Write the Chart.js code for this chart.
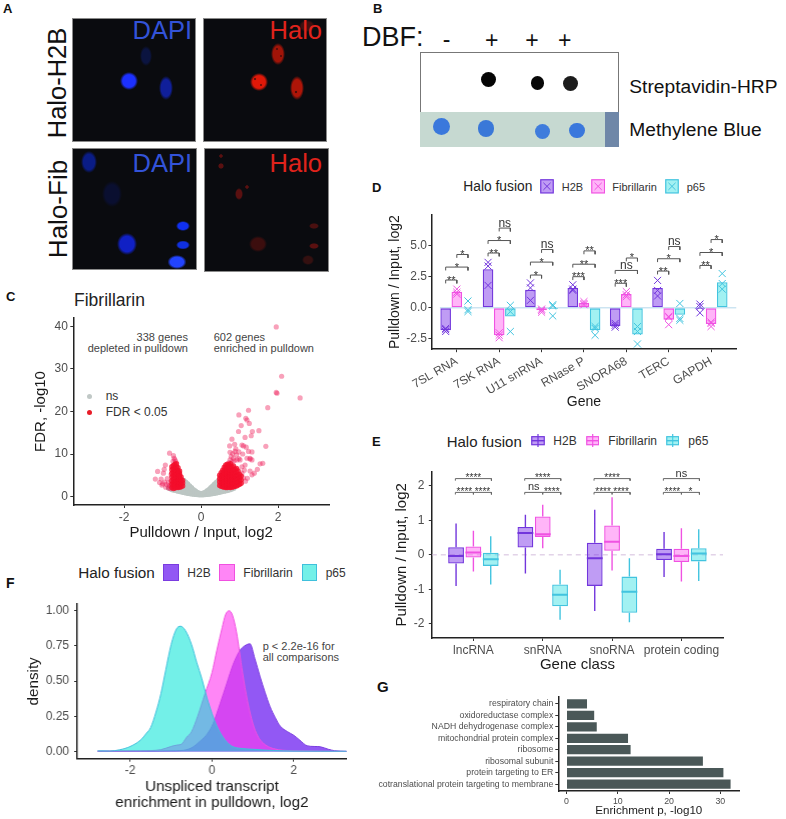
<!DOCTYPE html>
<html><head><meta charset="utf-8">
<script src="https://cdn.jsdelivr.net/npm/chart.js@4"></script>
<style>
html,body{margin:0;padding:0;background:#fff;width:786px;height:819px;overflow:hidden;font-family:"Liberation Sans",Arial,sans-serif}
#root{position:relative;width:786px;height:819px}
#root>*{position:absolute}
.t{white-space:nowrap;line-height:1}
</style></head><body><div id="root"></div>
<script>
// ---------- DATA ----------
const fusions = ['H2B','Fibrillarin','p65'];
// Panel C: columns of [log2 ratio, [-log10 FDR ...]]
const nsGenes = [[-.85,[2.0]],[-.8,[1.8,2.3]],[-.75,[1.6,2.1,2.6]],[-.7,[1.5,2.0,2.6,3.2]],[-.65,[1.4,1.9,2.5,3.1]],[-.6,[1.25,1.8,2.4,3.0,3.6]],[-.55,[1.15,1.7,2.3,2.9,3.5,4.1]],[-.5,[1.05,1.6,2.2,2.8,3.4,4.0]],[-.45,[.95,1.5,2.0,2.6,3.2,3.8]],[-.4,[.85,1.35,1.9,2.4,3.0,3.4]],[-.35,[.75,1.25,1.7,2.2,2.7,3.0]],[-.3,[.7,1.1,1.55,2.0,2.5]],[-.25,[.6,1.0,1.4,1.8,2.1]],[-.2,[.55,.9,1.25,1.6]],[-.15,[.5,.8,1.1,1.35]],[-.1,[.45,.7,.95]],[-.05,[.4,.6,.8]],[0,[.4,.6]],[.05,[.4,.6,.8]],[.1,[.45,.7,.95]],[.15,[.5,.8,1.1,1.35]],[.2,[.55,.9,1.25,1.6]],[.25,[.6,1.0,1.4,1.8,2.1]],[.3,[.7,1.1,1.55,2.0,2.5]],[.35,[.75,1.25,1.7,2.2,2.7,3.0]],[.4,[.85,1.35,1.9,2.4,3.0,3.4]],[.45,[.95,1.5,2.0,2.6,3.2,3.8]],[.5,[1.05,1.6,2.2,2.8,3.4,4.0,4.6]],[.55,[1.15,1.7,2.3,2.9,3.5,4.1,4.7]],[.6,[1.25,1.8,2.4]],[.65,[1.35,1.9]],[.7,[1.45,2.0]],[.75,[1.6,2.1]],[.8,[1.75,2.2]],[.85,[1.95]]];
const depletedCore = [[-.76,[2.1,2.9,3.7,4.6,5.5,6.3,7.0]],[-.72,[1.9,2.6,3.3,4.1,4.9,5.7,6.5,7.3]],[-.68,[2.0,2.8,3.6,4.4,5.2,6.0,6.8,7.6]],[-.64,[2.2,3.0,3.8,4.6,5.4,6.2,7.0,7.7]],[-.6,[2.1,2.5,2.9,3.3,3.7,4.1,4.5,4.9,5.3,5.7,6.1,6.8]],[-.56,[2.2,2.6,3.0,3.4,3.8,4.2,4.6,5.0,5.4,6.0]],[-.52,[2.3,3.1,3.9,4.6]],[-.48,[2.5,3.2,3.8]]];
const depletedSparse = [[-.82,10.2],[-.72,9.6],[-.7,9.0],[-.68,8.6],[-.66,8.2],[-.73,8.3],[-.93,7.4],[-.96,6.4],[-1.13,5.9],[-.98,5.5],[-1.19,4.1],[-1.04,4.1],[-1.08,3.3],[-1.0,3.0],[-.95,3.4],[-.9,2.8],[-.92,2.2],[-1.02,2.7],[-.88,4.2],[-.85,3.2],[-.84,2.0],[-.82,2.6],[-.8,1.9],[-.78,3.6],[-.78,5.2]];
const enrichedCore = [[.48,[2.6,3.4,4.2,5.0]],[.52,[2.4,3.2,4.0,4.8,5.6]],[.56,[2.3,2.7,3.1,3.5,3.9,4.3,4.7,5.1,5.5,6.2]],[.6,[2.2,2.6,3.0,3.4,3.8,4.2,4.6,5.0,5.4,5.8,6.2,6.9]],[.64,[2.1,2.5,2.9,3.3,3.7,4.1,4.5,4.9,5.3,5.7,6.1,6.9,7.4]],[.68,[2.1,2.5,2.9,3.3,3.7,4.1,4.5,4.9,5.3,5.7,6.1,6.5,6.9,7.6]],[.72,[2.2,2.6,3.0,3.4,3.8,4.2,4.6,5.0,5.4,5.8,6.2,7.0,7.5]],[.76,[2.1,2.5,2.9,3.3,3.7,4.1,4.5,4.9,5.3,5.7,6.1,6.9,7.7]],[.8,[2.2,2.6,3.0,3.4,3.8,4.2,4.6,5.0,5.4,6.2,7.0]],[.84,[2.3,3.1,3.9,4.7,5.5,6.3,7.2]],[.88,[2.4,3.2,4.0,4.8,5.6,6.4]],[.92,[2.5,3.3,4.1,4.9,5.7,6.6]],[.96,[2.7,3.5,4.3,5.1,6.0]],[1.0,[2.9,3.7,4.5,5.2]],[1.04,[3.1,3.9,4.8]]];
const enrichedSparse = [[1.95,39.9],[2.09,28.3],[1.97,24.3],[1.95,24.5],[2.57,23.2],[1.73,20.9],[1.23,20.3],[.98,19.2],[1.16,18.4],[1.19,18],[1.04,16.7],[1.25,17.2],[1.33,15.3],[1.5,15.5],[.97,15.3],[1.14,13.9],[1.3,14.3],[.8,13.5],[1.68,11.8],[.74,11.9],[.87,12.3],[1.06,12.1],[1.17,11.6],[1.1,11.9],[.72,7.9],[.75,8.6],[.8,8.2],[.78,9.4],[.84,9.0],[.82,10.1],[.88,10.6],[.92,9.8],[.86,8.4],[.93,8.6],[.98,8.9],[.98,10.5],[.9,11.2],[.75,10.4],[1.32,8.6],[1.27,8.8],[1.23,10.6],[1.32,10.5],[1.08,10],[1.53,7.7],[1.6,7.8],[1.46,6.4],[1.38,5.5],[1.27,6],[1.32,5.1],[1.2,4.3],[1.06,5.5],[1.14,7.4],[1.06,7],[1.01,8.6],[1.19,9],[1.27,9],[1.12,6.2],[1.15,3.6],[1.1,4.4]];
const volcanoYTicks = [0,10,20,30,40];
const volcanoXTicks = [-2,0,2];

// Panel D
const genes = ['7SL RNA','7SK RNA','U11 snRNA','RNase P','SNORA68','TERC','GAPDH'];
const meanH2B = [-1.8,3.1,1.45,1.6,-1.45,1.6,-0.1];
const meanFib = [1.3,-2.2,-0.2,0.4,1.1,-0.95,-1.3];
const meanP65 = [-0.05,-0.7,-0.1,-1.8,-2.15,-0.55,2.05];
const repsH2B = [[-1.65,-1.75,-1.9],[3.65,3.35,1.8],[2.0,1.6,.6],[1.85,1.5,1.4],[-1.25,-1.4,-1.55],[2.2,1.4,.95],[.3,.1,-.4]];
const repsFib = [[1.5,1.25,1.1],[-2.0,-2.2,-2.4],[-.1,-.2,-.35],[.5,.35,.25],[1.3,1.05,.9],[-.7,-.75,-1.35],[-1.15,-1.25,-1.5]];
const repsP65 = [[.55,-.15,-.3],[.2,-.3,-1.9],[.25,.15,-.65],[-1.5,-1.65,-2.2],[-1.5,-1.9,-2.9],[.35,-.85,-1.0],[2.75,1.95,1.5]];
const geneSigY = [[2.23,3.27,4.28],[4.4,5.4,6.4],[2.63,3.67,4.68],[2.5,3.5,4.57],[1.97,3,4],[2.95,3.94,4.92],[3.4,4.44,5.48]];
const geneSigText = [['**','*','*'],['**','*','ns'],['*','*','ns'],['***','**','**'],['***','ns','*'],['**','*','ns'],['**','*','*']];
const geneYTicks = [-2.5,0,2.5,5];

// Panel E: [min, q1, median, q3, max]
const classes = ['lncRNA','snRNA','snoRNA','protein coding'];
const boxH2B = [[-.9,-.25,-.03,.22,.91],[-.54,.21,.63,.81,1.16],[-1.63,-.9,-.1,.35,1.31],[-.64,-.15,.02,.18,.66]];
const boxFib = [[-.48,-.08,.07,.24,.7],[.19,.52,.6,1.11,1.45],[-.45,.12,.38,.85,1.67],[-.77,-.21,-.03,.18,.77]];
const boxP65 = [[-.86,-.32,-.13,.06,.54],[-1.88,-1.49,-1.16,-.86,-.43],[-1.95,-1.68,-1.07,-.63,-.1],[-.76,-.19,.04,.19,.74]];
const classSigTop = ['****','****','****','ns'];
const classSigLeft = ['****','ns','****','****'];
const classSigRight = ['****','****','****','*'];
const classSigY = [2.21,1.81];
const classYTicks = [-2,-1,0,1,2];

// Panel F
const densH2B = [[-2.8,0],[-1.5,.002],[-1,.004],[-.75,.006],[-.5,.025],[-.3,.07],[-.1,.13],[.03,.2],[.2,.34],[.36,.48],[.52,.62],[.69,.72],[.8,.75],[.93,.765],[1.05,.66],[1.18,.53],[1.3,.42],[1.42,.32],[1.55,.24],[1.67,.18],[1.85,.14],[2.0,.115],[2.15,.08],[2.33,.04],[2.5,.035],[2.65,.033],[2.85,.015],[3.0,.005],[3.3,0]];
const densFib = [[-2.8,.002],[-2,.004],[-1.5,.006],[-1.25,.012],[-1,.035],[-.85,.045],[-.75,.05],[-.62,.1],[-.5,.14],[-.35,.25],[-.17,.41],[0,.56],[.12,.72],[.25,.88],[.33,.97],[.42,1.0],[.5,.97],[.6,.85],[.75,.56],[.87,.36],[1,.2],[1.12,.11],[1.25,.06],[1.5,.02],[2,.005],[3.3,0]];
const densP65 = [[-2.8,.004],[-2.5,.003],[-2.25,.012],[-2,.035],[-1.75,.08],[-1.6,.13],[-1.5,.17],[-1.37,.28],[-1.25,.41],[-1.13,.58],[-1,.76],[-.87,.87],[-.77,.89],[-.65,.86],[-.5,.76],[-.37,.63],[-.25,.52],[-.12,.38],[0,.27],[.12,.18],[.25,.11],[.37,.065],[.5,.035],[.75,.02],[1,.015],[1.5,.006],[2,.003],[3.3,.001]];
const densYTicks = [0,.25,.5,.75,1];
const densXTicks = [-2,0,2];

// Panel G
const terms = ['respiratory chain','oxidoreductase complex','NADH dehydrogenase complex','mitochondrial protein complex','ribosome','ribosomal subunit','protein targeting to ER','cotranslational protein targeting to membrane'];
const enrichment = [4,5.4,5.9,12,12.5,26.6,30.6,32];
const enrichTicks = [0,10,20,30];

// ---------- STYLE ----------
const FONT = '"Liberation Sans",Arial,sans-serif';
Chart.defaults.font.family = FONT;
Chart.defaults.animation = false;
Chart.defaults.plugins.legend.display = false;
Chart.defaults.plugins.tooltip.enabled = false;
const stroke = ['#7236dc','#f052e2','#42c4df'];
const fill = ['rgba(122,48,232,.48)','rgba(255,90,240,.45)','rgba(70,228,230,.5)'];
const root = document.getElementById('root');
const TICK = '#4d4d4d', INK = '#1a1a1a';

function txt(s,x,y,size,color,o={}){
  const d=document.createElement('div');d.className='t';d.textContent=s;
  const tx={l:'0',c:'-50%',r:'-100%'}[o.a||'l'];
  d.style.cssText=`left:${x}px;top:${y}px;font-size:${size}px;color:${color};font-weight:${o.b?'bold':'normal'};transform:translate(${tx},-50%) ${o.rot?'rotate('+o.rot+'deg)':''};`;
  root.appendChild(d);return d;
}
function box(x,y,w,h,css){const d=document.createElement('div');d.style.cssText=`left:${x}px;top:${y}px;width:${w}px;height:${h}px;box-sizing:border-box;${css}`;root.appendChild(d);return d;}
function svg(x,y,w,h,inner){const d=document.createElement('div');d.style.cssText=`left:${x}px;top:${y}px;width:${w}px;height:${h}px;`;d.innerHTML=`<svg width="${w}" height="${h}" style="display:block">${inner}</svg>`;root.appendChild(d);}

function axisCommon(ticksArr,fmt,size,titleText,titleSize,lh,rot,pad){
  return {
    type:'linear',
    offset:false,
    afterBuildTicks:s=>{s.ticks=ticksArr.map(v=>({value:v}));},
    grid:{offset:false,drawOnChartArea:false,drawTicks:true,tickLength:3,tickColor:'#333',tickWidth:1},
    border:{display:true,color:'#222',width:1.5},
    ticks:{autoSkip:false,maxRotation:rot||0,minRotation:rot||0,padding:pad===undefined?2:pad,color:TICK,font:{size},callback:fmt},
    title:titleText?{display:true,text:titleText,color:INK,padding:0,font:{size:titleSize,lineHeight:lh||1.2}}:{display:false}
  };
}
function panel(P,cfg){
  const c=document.createElement('canvas');
  const W=P.cR-P.cL,H=P.cB-P.cT;
  c.width=W;c.height=H;c.style.cssText=`left:${P.cL}px;top:${P.cT}px;width:${W}px;height:${H}px;`;
  root.appendChild(c);
  cfg.options=cfg.options||{};
  cfg.options.responsive=false;
  cfg.options.maintainAspectRatio=false;
  cfg.options.layout={padding:{top:P.T-P.cT,right:P.cR-P.R,left:0,bottom:0}};
  const sc=cfg.options.scales;
  sc.x.afterFit=s=>{s.height=P.cB-P.B;s.paddingLeft=s.paddingRight=s.paddingTop=s.paddingBottom=0;};
  sc.y.afterFit=s=>{s.width=P.L-P.cL;s.paddingLeft=s.paddingRight=s.paddingTop=s.paddingBottom=0;};
  return new Chart(c,cfg);
}
function labelPlugin(items){ // items: {x,y,text,size,dy} in data units
  return {id:'sig',afterDatasetsDraw(ch){
    const g=ch.ctx;g.save();g.textAlign='center';g.textBaseline='alphabetic';g.fillStyle='#333';
    items.forEach(it=>{g.font=`${it.size}px ${FONT}`;g.fillText(it.text,ch.scales.x.getPixelForValue(it.x),ch.scales.y.getPixelForValue(it.y)+it.dy);});
    g.restore();}};
}
const flat = cols => cols.flatMap(([x,ys])=>ys.map(y=>({x,y})));
const pairs = arr => arr.map(([x,y])=>({x,y}));

// ---------- PANEL LETTERS ----------
[['A',3,8,13],['B',373,8,13],['C',6,296,13],['D',372,187,13],['E',372,441,13],['F',6,583,14],['G',377,686,15]].forEach(([s,x,y,z])=>txt(s,x,y,z,'#111',{b:1}));

// ---------- PANEL A (micrographs) ----------
function tile(x,y,w,h,spots){
  const bg=spots.map(([cx,cy,rx,ry,col])=>`radial-gradient(ellipse ${rx}px ${ry}px at ${cx}px ${cy}px, ${col} 0%, ${col} 70%, transparent 100%)`).join(',');
  box(x,y,w,h,`background:${bg?bg+',':''}#0a0b0f;border:1px solid #8a8a8a;`);
}
tile(72,18,124,124,[[56,62,9,9,'#1c30ff'],[93,69,7,12,'#101f9a'],[73,37,6,10,'#0b1440']]);
tile(202.5,18,124,124,[[51,60,1.6,1.6,'#701008'],[57,66,1.4,1.4,'#801008'],[92,73,1.6,1.6,'#500c08'],[73,30,1.4,1.4,'#600c08'],[77,37,1.4,1.4,'#600c08'],[55,63,9,9,'#e01808'],[93,69,7,12,'#ae1508'],[74,35,7,11,'#a01408'],[103,7,8,6,'#40100f']]);
tile(72,148,125,122,[[16,13,8,11,'#0a1c86'],[39,45,10,13,'#0a0f30'],[54,95,10,11,'#1020c4'],[110,77,7,5,'#1030f0'],[110,96,7,4.5,'#1030e0'],[104,113,9.5,7,'#2244ff']]);
tile(203.5,148,125,124,[[16,7,2,2,'#5a1010'],[16,17,3,3,'#5a1010'],[34,45,4,6,'#5a1010'],[42,38,2,2,'#5a1010'],[53,95,9,8,'#3c0e0e'],[109,77,5,3,'#4a1010'],[109,97,5,3,'#5a1010'],[103,111,6,5,'#341010']]);
txt('DAPI',192,31,25.5,'#3353d8',{a:'r'});
txt('Halo',322,31,25.5,'#e0231c',{a:'r'});
txt('DAPI',192,164,25.5,'#3353d8',{a:'r'});
txt('Halo',322,164,25.5,'#e0231c',{a:'r'});
txt('Halo-H2B',58,82.5,25.5,'#111',{a:'c',rot:-90});
txt('Halo-Fib',58,209,26,'#111',{a:'c',rot:-90});

// ---------- PANEL B (dot blot) ----------
txt('DBF:',362,37,27,'#111');
txt('-',446.5,39,23,'#111',{a:'c'});
[491.7,532,564.7].forEach(x=>txt('+',x,40,23,'#111',{a:'c'}));
box(419.7,52.3,199.3,60,'background:#fff;border:1px solid #777;border-bottom:none;');
box(419.7,112.3,199.3,34.4,'background:#c6d9d1;');
box(605,112.3,14,34.4,'background:#6f87a8;');
[[488.3,79.3,7.5,'#050505'],[537.7,83,6.8,'#080808'],[570,83.3,7.5,'#1c1c1c'],[441.7,126.7,8.6,'#3a78dc'],[486,128.3,8.4,'#3a78d8'],[542.3,131.3,7.6,'#3f7cdc'],[577,130.7,7.8,'#3a78dc']].forEach(([x,y,r,c])=>box(x-r,y-r,2*r,2*r,`border-radius:50%;background:${c};filter:blur(.5px);`));
txt('Streptavidin-HRP',629.3,87,19.2,'#111');
txt('Methylene Blue',629.3,130,19.2,'#111');

// ---------- PANEL C ----------
txt('Fibrillarin',74,301,17.5,'#222');
txt('338 genes',188,336.7,11,'#444',{a:'r'});
txt('depleted in pulldown',188,347.7,11,'#444',{a:'r'});
txt('602 genes',213.7,336.7,11,'#444');
txt('enriched in pulldown',213.7,347.7,11,'#444');
box(86.8,393.5,5,5,'border-radius:50%;background:#c0c8c6;');
box(86.8,409.8,5,5,'border-radius:50%;background:#e81c28;');
txt('ns',105.7,396,12,'#333');
txt('FDR < 0.05',105.7,412.3,12,'#333');
const corePt='rgba(244,14,44,.8)', sparsePt='rgba(238,30,90,.42)';
panel({cL:31.7,cT:310,cR:335,cB:542,L:73,T:318,R:329,B:505},{
  type:'scatter',
  data:{datasets:[
    {label:'depleted core',data:flat(depletedCore),backgroundColor:corePt,pointRadius:2.7,borderWidth:0,order:1},
    {label:'enriched core',data:flat(enrichedCore),backgroundColor:corePt,pointRadius:2.7,borderWidth:0,order:1},
    {label:'depleted',data:pairs(depletedSparse),backgroundColor:sparsePt,pointRadius:2.6,borderWidth:0,order:2},
    {label:'enriched',data:pairs(enrichedSparse),backgroundColor:sparsePt,pointRadius:2.6,borderWidth:0,order:2},
    {label:'ns',data:flat(nsGenes),backgroundColor:'#bcc6c3',pointRadius:2.6,borderWidth:0,order:3}
  ]},
  options:{scales:{
    x:Object.assign(axisCommon(volcanoXTicks,v=>String(v),12,'Pulldown / Input, log2',15),{min:-3.32,max:3.32}),
    y:Object.assign(axisCommon(volcanoYTicks,v=>String(v),12,'FDR, -log10',15,1.2,0,2.5),{min:-2,max:42})
  }}
});

// ---------- PANEL D ----------
txt('Halo fusion',463.3,186.7,13.8,'#222');
function crossSwatch(x,y,w,h,i){svg(x,y,w,h,`<rect x=".75" y=".75" width="${w-1.5}" height="${h-1.5}" fill="${fill[i]}" stroke="${stroke[i]}" stroke-width="1.2"/><path d="M${w/2-3.6} ${h/2-3.6}L${w/2+3.6} ${h/2+3.6}M${w/2+3.6} ${h/2-3.6}L${w/2-3.6} ${h/2+3.6}" stroke="${stroke[i]}" stroke-width="1"/>`);}
crossSwatch(540,179.3,14,14.7,0);crossSwatch(590.7,179.3,14.3,14.7,1);crossSwatch(665,179.3,14,14.7,2);
txt('H2B',561.7,187,11,'#333');txt('Fibrillarin',612.3,187,11,'#333');txt('p65',686.7,187,11,'#333');

const dodge=[-.263,0,.263];
function geneBrackets(){
  const pts=[],items=[],tip=.27;
  genes.forEach((g,i)=>{
    const c=i+1,spans=[[dodge[0],dodge[1]],[dodge[0],dodge[2]],[dodge[1],dodge[2]]];
    spans.forEach(([a,b],k)=>{
      const y=geneSigY[i][k];
      pts.push({x:c+a,y:y-tip},{x:c+a,y},{x:c+b,y},{x:c+b,y:y-tip},{x:c+b,y:null});
      const t=geneSigText[i][k];
      items.push({x:c+(a+b)/2,y,text:t,size:t==='ns'?12:11,dy:t==='ns'?-1.5:3.5});
    });
  });
  return {pts,items};
}
const gb=geneBrackets();
const repSets=[repsH2B,repsFib,repsP65];
const meanSets=[meanH2B,meanFib,meanP65];
panel({cL:386.6,cT:205,cR:745,cB:411.1,L:431,T:215,R:736.5,B:349.3},{
  type:'bar',
  data:{datasets:[
    ...meanSets.map((m,k)=>({type:'bar',label:fusions[k],data:m.map((v,i)=>({x:i+1,y:v})),backgroundColor:fill[k],borderColor:stroke[k],borderWidth:1.3,borderSkipped:false,categoryPercentage:.79,barPercentage:.95,order:5})),
    ...repSets.map((r,k)=>({type:'scatter',label:fusions[k]+' replicates',data:r.flatMap((ys,i)=>ys.map(y=>({x:i+1+dodge[k],y}))),pointStyle:'crossRot',pointRadius:5,borderColor:stroke[k],backgroundColor:'transparent',pointBorderWidth:1,order:3})),
    {type:'line',label:'brackets',data:gb.pts,borderColor:'#555',borderWidth:1,pointRadius:0,spanGaps:false,order:2},
    {type:'line',label:'zero',data:[{x:.6,y:0},{x:7.6,y:0}],borderColor:'rgba(160,205,230,.8)',borderWidth:1,pointRadius:0,order:8}
  ]},
  options:{scales:{
    x:Object.assign(axisCommon(genes.map((g,i)=>i+1),v=>genes[v-1],12,'Gene',14,1.2,30),{min:.4,max:7.6}),
    y:Object.assign(axisCommon(geneYTicks,v=>v.toFixed(1),12,'Pulldown / Input, log2',14,1.2,0,1.5),{min:-3.32,max:7.45})
  }},
  plugins:[labelPlugin(gb.items)]
});

// ---------- PANEL E ----------
txt('Halo fusion',446.7,441,15,'#222');
function boxSwatch(x,y,w,h,i){svg(x,y,w,h,`<path d="M${w/2} 0V${h}" stroke="${stroke[i]}" stroke-width="1.2"/><rect x=".75" y="${h*.2}" width="${w-1.5}" height="${h*.6}" fill="${fill[i]}" stroke="${stroke[i]}" stroke-width="1.2"/><path d="M.75 ${h/2}H${w-.75}" stroke="${stroke[i]}" stroke-width="1.4"/>`);}
boxSwatch(531,434,14,13.4,0);boxSwatch(585.7,434,13.4,13.4,1);boxSwatch(666,434,13.4,13.4,2);
txt('H2B',553.3,441,12,'#333');txt('Fibrillarin',608.3,441,12,'#333');txt('p65',688.3,441,12,'#333');

const boxSets=[boxH2B,boxFib,boxP65];
const bd=[-.25,0,.25],halfBox=.114;
const bracketPts=[],sigItems=[];
classes.forEach((c,i)=>{
  const x=i+1,[yT,yL]=classSigY,tip=.06;
  bracketPts.push({x:x-.26,y:yT-tip},{x:x-.26,y:yT},{x:x+.26,y:yT},{x:x+.26,y:yT-tip},{x:x+.26,y:null});
  bracketPts.push({x:x-.26,y:yL-tip},{x:x-.26,y:yL},{x:x,y:yL},{x:x,y:yL-tip},{x:x,y:yL},{x:x+.26,y:yL},{x:x+.26,y:yL-tip},{x:x+.26,y:null});
  const st=t=>t==='ns'?{size:11,dy:-2}:{size:10,dy:2.5};
  sigItems.push({x,y:yT,text:classSigTop[i],...st(classSigTop[i])});
  sigItems.push({x:x-.13,y:yL,text:classSigLeft[i],...st(classSigLeft[i])});
  sigItems.push({x:x+.13,y:yL,text:classSigRight[i],...st(classSigRight[i])});
});
panel({cL:392.7,cT:462,cR:730,cB:674,L:431.5,T:471.7,R:723,B:638},{
  type:'bar',
  data:{datasets:[
    ...boxSets.map((b,k)=>({type:'bar',label:fusions[k],data:b.map((v,i)=>({x:i+1,y:[v[1],v[3]]})),backgroundColor:fill[k],borderColor:stroke[k],borderWidth:1.3,borderSkipped:false,categoryPercentage:.75,barPercentage:.91,order:5})),
    ...boxSets.map((b,k)=>({type:'line',label:fusions[k]+' whiskers',data:b.flatMap((v,i)=>{const x=i+1+bd[k];return [{x,y:v[0]},{x,y:v[1]},{x,y:null},{x,y:v[3]},{x,y:v[4]},{x,y:null}];}),borderColor:stroke[k],borderWidth:1.4,pointRadius:0,spanGaps:false,order:4})),
    ...boxSets.map((b,k)=>({type:'line',label:fusions[k]+' medians',data:b.flatMap((v,i)=>{const x=i+1+bd[k];return [{x:x-halfBox,y:v[2]},{x:x+halfBox,y:v[2]},{x:x+halfBox,y:null}];}),borderColor:stroke[k],borderWidth:2,pointRadius:0,spanGaps:false,order:3})),
    {type:'line',label:'brackets',data:bracketPts,borderColor:'#666',borderWidth:1,pointRadius:0,spanGaps:false,order:2},
    {type:'line',label:'zero',data:[{x:.4,y:0},{x:4.6,y:0}],borderColor:'rgba(205,180,215,.9)',borderWidth:1,borderDash:[5,4],pointRadius:0,order:8}
  ]},
  options:{scales:{
    x:Object.assign(axisCommon(classes.map((g,i)=>i+1),v=>classes[v-1],12,'Gene class',15),{min:.4,max:4.6}),
    y:Object.assign(axisCommon(classYTicks,v=>String(v),12,'Pulldown / Input, log2',15,1.2,0,4.5),{min:-2.41,max:2.41})
  }},
  plugins:[labelPlugin(sigItems)]
});

// ---------- PANEL F ----------
txt('Halo fusion',78.3,572.7,15.3,'#222');
const densFill=['rgba(108,30,240,.74)','rgba(255,60,240,.62)','rgba(0,227,213,.55)'];
const densLine=['#7a3ce0','#f050e0','#3fc0dc'];
[[163.3,0],[219.3,1],[301.7,2]].forEach(([x,i])=>box(x,564.3,15.7,16.4,`background:${densFill[i]};border:1px solid ${densLine[i]};`));
txt('H2B',187.3,572.7,12,'#333');txt('Fibrillarin',243.3,572.7,12.2,'#333');txt('p65',325.7,572.7,12,'#333');
txt('p < 2.2e-16 for',262.7,645.7,11,'#444');
txt('all comparisons',262.7,657.3,11,'#444');
const densSets=[densH2B,densFib,densP65];
panel({cL:25.3,cT:596,cR:352,cB:811.3,L:77.3,T:604,R:346.7,B:759},{
  type:'line',
  data:{datasets:densSets.map((d,k)=>({label:fusions[k],data:pairs(d),fill:'origin',backgroundColor:densFill[k],borderColor:densLine[k],borderWidth:1,pointRadius:0,tension:.35,cubicInterpolationMode:'monotone',order:3-k}))},
  options:{scales:{
    x:Object.assign(axisCommon(densXTicks,v=>String(v),12,['Unspliced transcript','enrichment in pulldown, log2'],15.2,16/15.2),{min:-3.3,max:3.3}),
    y:Object.assign(axisCommon(densYTicks,v=>v.toFixed(2),12,'density',15.2,1.2,0,5),{min:-.052,max:1.048})
  }}
});

// ---------- PANEL G ----------
panel({cL:374,cT:690,cR:745,cB:818.3,L:558.3,T:697,R:739.3,B:791.3},{
  type:'bar',
  data:{datasets:[{label:'Enrichment',data:enrichment.map((v,i)=>({x:v,y:i+1})),backgroundColor:'#4a5858',categoryPercentage:.9,barPercentage:.9}]},
  options:{indexAxis:'y',scales:{
    x:Object.assign(axisCommon(enrichTicks,v=>String(v),8.8,'Enrichment p, -log10',11.6),{min:-1.6,max:33.7}),
    y:Object.assign(axisCommon(terms.map((t,i)=>i+1),v=>terms[v-1],8.7),{min:.4,max:8.6,reverse:true})
  }}
});
</script></body></html>
